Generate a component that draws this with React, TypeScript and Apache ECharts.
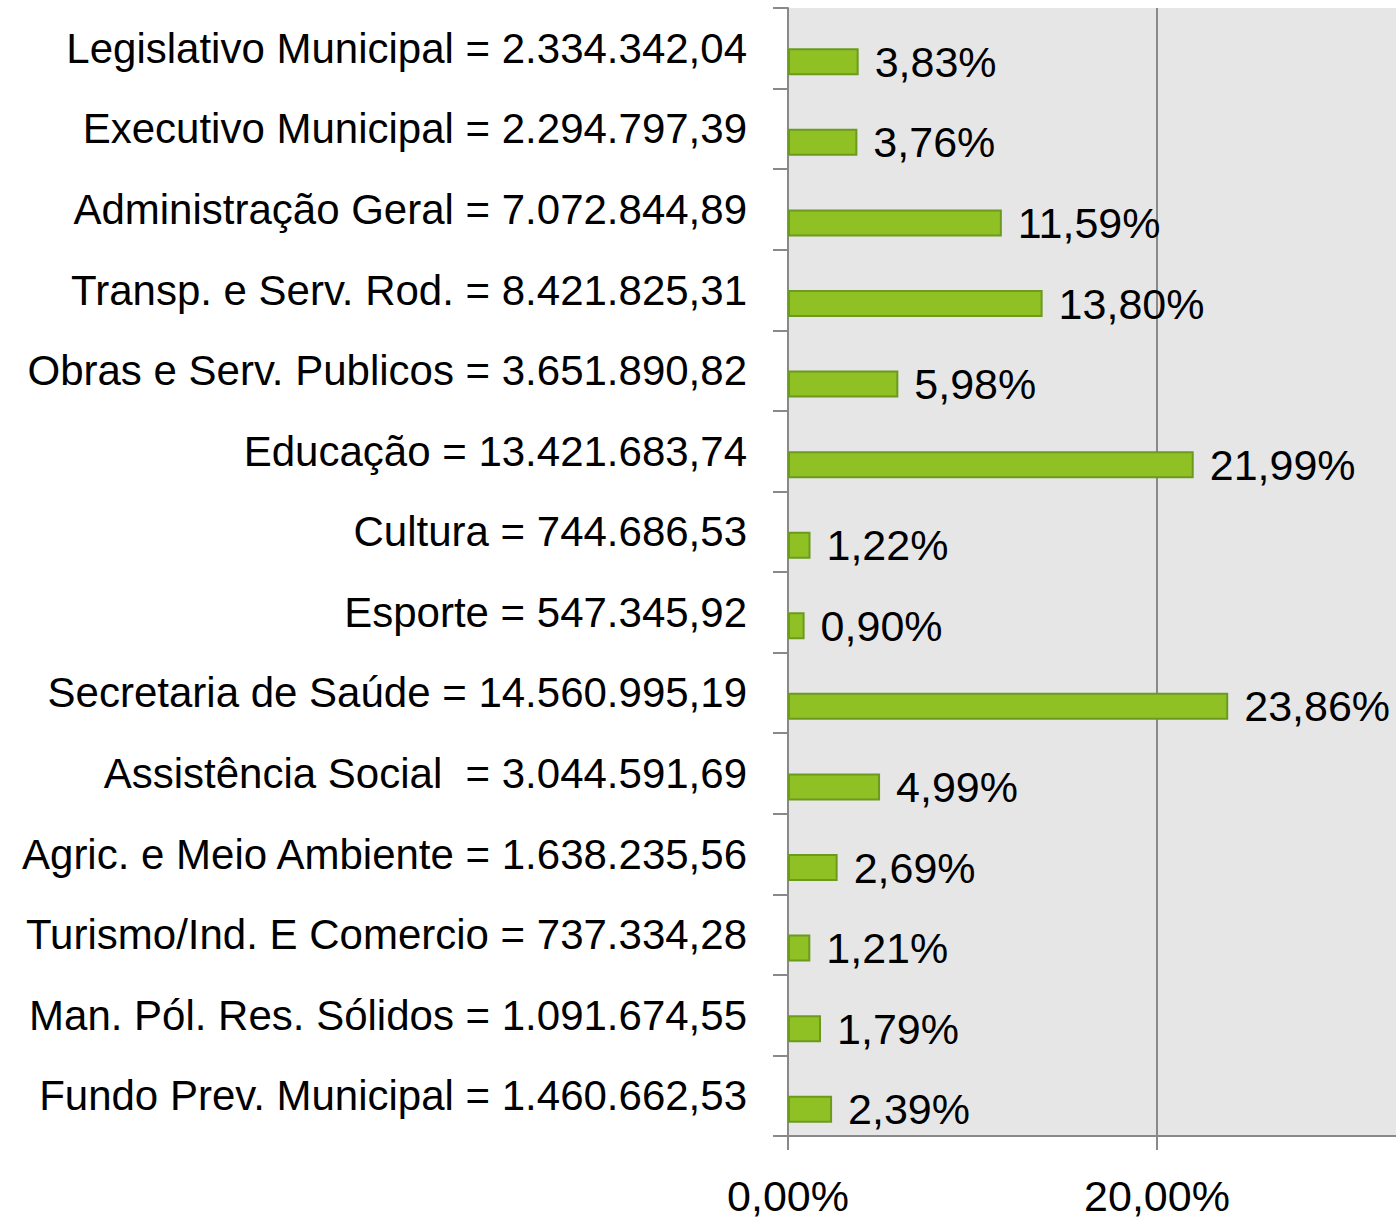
import React, { useEffect, useRef } from "react";
import * as echarts from "echarts";

const categories = [
  "Legislativo Municipal = 2.334.342,04",
  "Executivo Municipal = 2.294.797,39",
  "Administração Geral = 7.072.844,89",
  "Transp. e Serv. Rod. = 8.421.825,31",
  "Obras e Serv. Publicos = 3.651.890,82",
  "Educação = 13.421.683,74",
  "Cultura = 744.686,53",
  "Esporte = 547.345,92",
  "Secretaria de Saúde = 14.560.995,19",
  "Assistência Social  = 3.044.591,69",
  "Agric. e Meio Ambiente = 1.638.235,56",
  "Turismo/Ind. E Comercio = 737.334,28",
  "Man. Pól. Res. Sólidos = 1.091.674,55",
  "Fundo Prev. Municipal = 1.460.662,53",
];

const percentValues = [3.83, 3.76, 11.59, 13.8, 5.98, 21.99, 1.22, 0.9, 23.86, 4.99, 2.69, 1.21, 1.79, 2.39];
const emptySeries = categories.map(() => "-");
const axisMin = 0;
const axisMax = 40;
const axisInterval = 20;

const FONT = "Liberation Sans";
const fmtPct = (v: number) => v.toFixed(2).replace(".", ",") + "%";

export default function App() {
  const ref = useRef<HTMLDivElement>(null);
  useEffect(() => {
    if (!ref.current) return;
    const chart = echarts.init(ref.current, null, { renderer: "svg" });
    const gray = "#898989";
    chart.setOption({
      animation: false,
      backgroundColor: "#ffffff",
      grid: {
        left: 788,
        top: 8,
        right: 1396 - (788 + 738),
        bottom: 82,
        show: true,
        backgroundColor: "#e6e6e6",
        borderWidth: 0,
        containLabel: false,
        outerBoundsMode: "none",
      },
      xAxis: {
        type: "value",
        min: axisMin,
        max: axisMax,
        interval: axisInterval,
        axisLine: { show: true, lineStyle: { color: gray, width: 2 } },
        axisTick: { show: true, length: 14, lineStyle: { color: gray, width: 2 } },
        splitLine: { show: true, lineStyle: { color: gray, width: 2 } },
        axisLabel: {
          margin: 38,
          fontFamily: FONT,
          fontSize: 43,
          color: "#000",
          hideOverlap: false,
          showMaxLabel: false,
          formatter: (v: number) => fmtPct(v),
        },
      },
      yAxis: {
        type: "category",
        inverse: true,
        data: categories,
        axisLine: { show: true, lineStyle: { color: gray, width: 2 } },
        axisTick: { show: true, length: 15, lineStyle: { color: gray, width: 2 } },
        axisLabel: {
          margin: 41,
          fontFamily: FONT,
          fontSize: 42,
          color: "#000",
        },
        splitLine: { show: false },
      },
      series: [
        {
          type: "bar",
          data: emptySeries,
          barWidth: 27,
          barGap: "0%",
          silent: true,
        },
        {
          type: "bar",
          data: percentValues,
          barWidth: 27,
          barGap: "0%",
          itemStyle: { color: "#8fc125", borderColor: "#6b9a1f", borderWidth: 2 },
          label: {
            show: true,
            position: "right",
            distance: 16,
            fontFamily: FONT,
            fontSize: 43,
            color: "#000",
            formatter: (p: any) => fmtPct(p.value),
          },
        },
      ],
    });
    return () => chart.dispose();
  }, []);
  return (
    <div
      ref={ref}
      style={{ position: "fixed", left: 0, top: 0, width: 1396, height: 1218, overflow: "hidden" }}
    />
  );
}
